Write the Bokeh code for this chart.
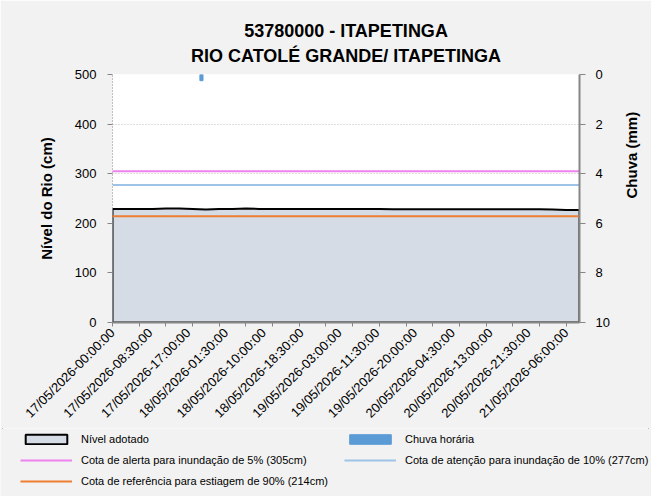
import numpy as np
import pandas as pd
from bokeh.plotting import figure
from bokeh.layouts import column
from bokeh.models import (Range1d, LinearAxis, FixedTicker, DatetimeTickFormatter,
                          Legend, LegendItem, Title)
from bokeh.embed import file_html
from bokeh.resources import INLINE

# ---------------- data ----------------
title_lines = ["53780000 - ITAPETINGA", "RIO CATOLÉ GRANDE/ ITAPETINGA"]
start_time = "2026-05-17 00:00:00"
level_hours = list(range(0, 106, 3))
level_cm = [229, 229, 229, 229, 230, 230, 229, 228, 229, 229, 230,
            229, 229, 229, 229, 229, 229, 229, 229, 229, 229,
            228.5, 228.5, 228.5, 228.5, 228.5, 228.5, 228.5, 228.5, 228.5, 228.5, 228.5, 228.5,
            228, 227, 227]
rain_hours = [20]
rain_mm = [0.25]
cota_alerta = 305
cota_atencao = 277
cota_referencia = 214
tick_labels = ["17/05/2026-00:00:00", "17/05/2026-08:30:00", "17/05/2026-17:00:00",
               "18/05/2026-01:30:00", "18/05/2026-10:00:00", "18/05/2026-18:30:00",
               "19/05/2026-03:00:00", "19/05/2026-11:30:00", "19/05/2026-20:00:00",
               "20/05/2026-04:30:00", "20/05/2026-13:00:00", "20/05/2026-21:30:00",
               "21/05/2026-06:00:00"]
level_ticks = [0, 100, 200, 300, 400, 500]
rain_ticks = [0, 2, 4, 6, 8, 10]
legend_labels = ["Nível adotado", "Chuva horária",
                 "Cota de alerta para inundação de 5% (305cm)",
                 "Cota de atenção para inundação de 10% (277cm)",
                 "Cota de referência para estiagem de 90% (214cm)"]

# ---------------- helpers ----------------
def to_ms(ts):
    return pd.Timestamp(ts).timestamp() * 1000.0

t0 = pd.Timestamp(start_time)
level_x = [to_ms(t0 + pd.Timedelta(hours=h)) for h in level_hours]
rain_x = [to_ms(t0 + pd.Timedelta(hours=h)) for h in rain_hours]
tick_x = [to_ms(pd.to_datetime(s, format="%d/%m/%Y-%H:%M:%S")) for s in tick_labels]
minor_x = [to_ms(t0 + pd.Timedelta(hours=h)) for h in range(0, level_hours[-1], 6)]
xs = [level_x[0]] + level_x + [level_x[-1]]
ys = [0] + level_cm + [0]
xr = [level_x[0], level_x[-1]]
BAR_W = 0.7 * 3600 * 1000

FONT = "Liberation Sans"
GRAY = "#868686"
BG = "#F2F2F2"
AREA = dict(fill_color="#D6DCE5", line_color="black", line_width=2)
RAIN = dict(fill_color="#5B9BD5", line_color="#5B9BD5")
ALERTA = dict(line_color="#EE82EE", line_width=2)
ATENCAO = dict(line_color="#9DC3E6", line_width=2)
REF = dict(line_color="#ED7D31", line_width=2)

p = figure(width=651, height=428, output_backend="svg", toolbar_location=None,
           x_range=Range1d(level_x[0], level_x[-1]), y_range=Range1d(0, 500),
           min_border_left=112, min_border_right=68, min_border_top=74,
           min_border_bottom=103, background_fill_color="white",
           border_fill_color=BG, outline_line_color=None)
p.frame_align = False
p.extra_y_ranges = {"rain": Range1d(start=10, end=0)}

# small spacer between frame and the two title lines
p.add_layout(Title(text=" ", text_font_size="1px", standoff=4), "above")
for txt, so in [(title_lines[1], 4), (title_lines[0], 1)]:
    p.add_layout(Title(text=txt, align="center", text_font=FONT,
                       text_font_size="18px", text_font_style="bold",
                       text_color="black", standoff=so), "above")

# grids
p.xgrid.visible = False
p.ygrid.grid_line_color = "#BFBFBF"
p.ygrid.grid_line_dash = "1 2"
p.ygrid.ticker = FixedTicker(ticks=level_ticks)

# level area, rain, reference lines
p.patch(xs, ys, **AREA)
p.vbar(x=rain_x, bottom=0, top=rain_mm, width=BAR_W, y_range_name="rain", **RAIN)
p.line(xr, [cota_alerta] * 2, **ALERTA)
p.line(xr, [cota_atencao] * 2, **ATENCAO)
p.line(xr, [cota_referencia] * 2, **REF)

# x axis
xa = p.xaxis[0]
xa.ticker = FixedTicker(ticks=tick_x, minor_ticks=minor_x)
fmt = "%d/%m/%Y-%H:%M:%S"
xa.formatter = DatetimeTickFormatter(seconds=fmt, minsec=fmt, minutes=fmt, hourmin=fmt,
                                     hours=fmt, days=fmt, months=fmt, years=fmt)
xa.major_label_orientation = np.pi / 4
xa.major_tick_out = 0
xa.major_tick_in = 0
xa.minor_tick_out = 4
xa.minor_tick_in = 0
xa.axis_line_color = GRAY
xa.axis_line_width = 2
xa.minor_tick_line_color = GRAY
xa.major_label_text_font = FONT
xa.major_label_text_font_size = "13px"
xa.major_label_text_color = "black"
xa.major_label_standoff = 4

# left axis
ya = p.yaxis[0]
ya.ticker = FixedTicker(ticks=level_ticks)
ya.axis_label = "Nível do Rio (cm)"
ya.axis_label_text_font = FONT
ya.axis_label_text_font_size = "15px"
ya.axis_label_text_font_style = "bold"
ya.axis_label_text_color = "black"
ya.axis_label_standoff = 17
ya.axis_line_color = GRAY
ya.axis_line_dash = "1 2"
ya.major_tick_out = 5
ya.major_tick_in = 0
ya.minor_tick_line_color = None
ya.major_tick_line_color = GRAY
ya.major_label_text_font = FONT
ya.major_label_text_font_size = "13px"
ya.major_label_text_color = "black"
ya.major_label_standoff = 11

# right axis
ra = LinearAxis(y_range_name="rain", axis_label="Chuva (mm)",
                ticker=FixedTicker(ticks=rain_ticks))
ra.axis_label_text_font = FONT
ra.axis_label_text_font_size = "15px"
ra.axis_label_text_font_style = "bold"
ra.axis_label_text_color = "black"
ra.axis_label_standoff = 19
ra.axis_label_orientation = np.pi / 2
ra.axis_line_color = GRAY
ra.axis_line_width = 2
ra.major_tick_out = 6
ra.major_tick_in = 0
ra.minor_tick_line_color = None
ra.major_tick_line_color = GRAY
ra.major_label_text_font = FONT
ra.major_label_text_font_size = "13px"
ra.major_label_text_color = "black"
ra.major_label_standoff = 10
p.add_layout(ra, "right")

# ---------------- legend strip (same series, ranges chosen so only the legend shows) ----
q = figure(width=651, height=68, output_backend="svg", toolbar_location=None,
           x_range=Range1d(0, 1), y_range=Range1d(-2, -1),
           x_axis_location=None, y_axis_location=None,
           min_border=0, background_fill_color=BG, border_fill_color=BG,
           outline_line_color=None)
q.frame_align = False
q.grid.visible = False
l_level = q.patch(xs, ys, **AREA)
l_rain = q.vbar(x=rain_x, bottom=0, top=rain_mm, width=BAR_W, **RAIN)
l_alerta = q.line(xr, [cota_alerta] * 2, **ALERTA)
l_atencao = q.line(xr, [cota_atencao] * 2, **ATENCAO)
l_ref = q.line(xr, [cota_referencia] * 2, **REF)

legend = Legend(items=[LegendItem(label=legend_labels[0], renderers=[l_level]),
                       LegendItem(label=legend_labels[1], renderers=[l_rain]),
                       LegendItem(label=legend_labels[2], renderers=[l_alerta]),
                       LegendItem(label=legend_labels[3], renderers=[l_atencao]),
                       LegendItem(label=legend_labels[4], renderers=[l_ref])],
                location=(20, 7), orientation="horizontal", ncols=2,
                background_fill_alpha=0, border_line_color=None,
                padding=0, margin=0, spacing=4, label_height=17, label_width=259,
                glyph_width=52, glyph_height=12, label_standoff=9,
                label_text_font=FONT, label_text_font_size="11px",
                label_text_color="black")
q.add_layout(legend, "center")

layout = column(p, q, spacing=0)
layout.styles = {"outline": "1px solid #7F7F7F", "outline-offset": "-3px"}
open("out.html", "w").write(file_html(layout, INLINE))
